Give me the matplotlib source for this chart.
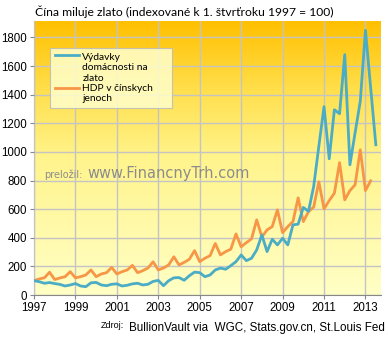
import numpy as np
import matplotlib.pyplot as plt
from matplotlib.colors import LinearSegmentedColormap
from matplotlib.legend_handler import HandlerLine2D

# Quarterly index, Q1 1997 = 100
start_year = 1997
gold_spending = [100, 93, 82, 87, 80, 74, 63, 70, 80, 63, 58, 85, 88, 70, 65, 75,
                 78, 63, 68, 78, 82, 70, 75, 95, 102, 65, 100, 120, 122, 103, 135, 160,
                 156, 128, 140, 175, 188, 180, 205, 233, 280, 240, 257, 315, 420, 303, 390, 350,
                 397, 350, 490, 495, 612, 585, 758, 1040, 1316, 952, 1295, 1267, 1680, 910, 1134, 1354,
                 1850, 1450, 1050]
gdp_yuan = [100, 112, 120, 159, 108, 119, 128, 163, 120, 128, 140, 175, 128, 147, 156, 193,
            147, 163, 175, 207, 156, 170, 189, 232, 175, 189, 210, 267, 210, 228, 250, 310,
            233, 257, 275, 360, 280, 303, 320, 427, 337, 366, 392, 525, 406, 455, 478, 595,
            436, 478, 513, 679, 513, 583, 614, 791, 602, 660, 712, 925, 665, 730, 770, 1015,
            730, 798]
series_names = ["Výdavky\ndomácnosti na\nzlato", "HDP v čínskych\njenoch"]
year_ticks = [1997, 1999, 2001, 2003, 2005, 2007, 2009, 2011, 2013]
value_ticks = [0, 200, 400, 600, 800, 1000, 1200, 1400, 1600, 1800]

LEG_FS = 7.4


class TopLineHandler(HandlerLine2D):
    # put the legend line next to the first text line, like Excel does
    def __init__(self, nlines, **kw):
        super().__init__(**kw)
        self.shift = (nlines - 1) / 2 * 1.2 * LEG_FS

    def create_artists(self, legend, orig_handle, xdescent, ydescent, width, height,
                       fontsize, trans):
        arts = super().create_artists(legend, orig_handle, xdescent, ydescent, width,
                                      height, fontsize, trans)
        for a in arts:
            a.set_ydata(np.asarray(a.get_ydata()) + self.shift)
        return arts


x_gold = start_year + np.arange(len(gold_spending)) / 4
x_gdp = start_year + np.arange(len(gdp_yuan)) / 4

fig = plt.figure(figsize=(3.88, 3.37), dpi=100)
ax = fig.add_axes([34 / 388, 1 - 295 / 337, 347 / 388, 274 / 337])
ax.set_xlim(1997, 2013.75)
ax.set_ylim(0, 1915)

# orange-to-pale-yellow gradient behind the plot
grad = LinearSegmentedColormap.from_list(
    "bg", [(0, "#FFC000"), (0.25, "#FFDF4C"), (0.5, "#FFF48C"), (1, "#FFFFC6")])
ax.imshow(np.linspace(0, 1, 256).reshape(-1, 1), cmap=grad, aspect="auto",
          extent=[1997, 2013.75, 0, 1915], origin="upper", zorder=0)

ax.set_xticks(year_ticks)
ax.set_yticks(value_ticks)
ax.grid(True, color="#C4C4C4", linewidth=1.0, zorder=1)
ax.set_axisbelow(False)

l1, = ax.plot(x_gold, gold_spending, color="#4BACC6", linewidth=2.0, zorder=4,
              label=series_names[0])
l2, = ax.plot(x_gdp, gdp_yuan, color="#F79646", linewidth=2.0, zorder=3,
              label=series_names[1])

for s in ["top", "right"]:
    ax.spines[s].set_visible(False)
for s in ["left", "bottom"]:
    ax.spines[s].set_color("#888888")
    ax.spines[s].set_linewidth(0.8)
ax.tick_params(colors="#888888", length=3, width=0.8, labelcolor="black",
               labelsize=8.3, pad=2)
for lab in ax.get_xticklabels() + ax.get_yticklabels():
    lab.set_family("Liberation Sans")

# legend box stretched to the width seen in the original
leg = ax.legend(loc="upper left", bbox_to_anchor=(0.046, 0.679, 0.352, 0.222),
                mode="expand", borderaxespad=0,
                frameon=True, fancybox=False, prop={"family": "Lato", "size": LEG_FS},
                handlelength=2.4, handletextpad=0.3, labelspacing=0.15,
                borderpad=0.45,
                handler_map={l1: TopLineHandler(3), l2: TopLineHandler(2)})
leg.get_frame().set_facecolor("#FFFFCC")
leg.get_frame().set_alpha(0.85)
leg.get_frame().set_edgecolor("#BBBBBB")
leg.get_frame().set_linewidth(0.8)
leg.set_zorder(6)

# watermark
ax.text(0.03, 0.44, "preložil:", transform=ax.transAxes, fontsize=7, color="#8C8C8C",
        family="DejaVu Sans", va="center", zorder=5)
ax.text(0.155, 0.445, "www.FinancnyTrh.com", transform=ax.transAxes, fontsize=10.5,
        color="#8C8C8C", family="DejaVu Sans", va="center", zorder=5)

fig.text(35 / 388, 1 - 12 / 337, "Čína miluje zlato (indexované k 1. štvrťroku 1997 = 100)",
         fontsize=8.75, family="Lato", va="center", ha="left")
fig.text(124 / 388, 1 - 326 / 337, "Zdroj:", fontsize=6.5, family="Liberation Sans",
         va="center", ha="right")
fig.text(385 / 388, 1 - 328 / 337, "BullionVault via  WGC, Stats.gov.cn, St.Louis Fed",
         fontsize=8.4, family="Liberation Sans", va="center", ha="right")

fig.savefig("out.png", dpi=100)
